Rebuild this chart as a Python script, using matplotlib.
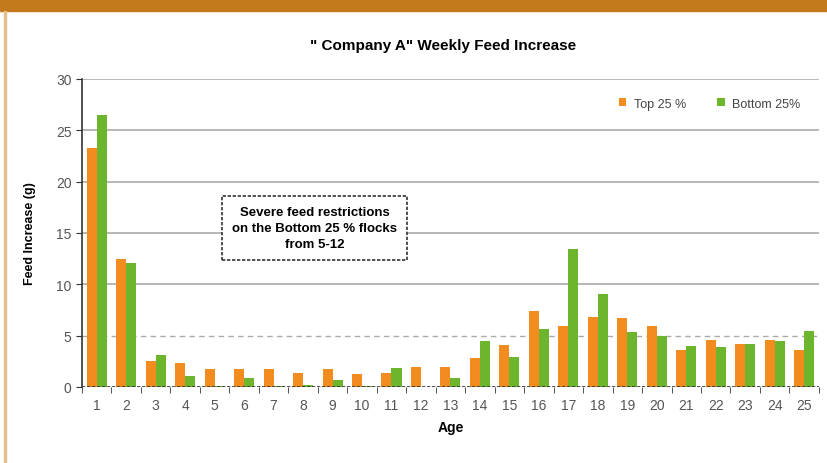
import numpy as np
import matplotlib
matplotlib.use('Agg')
import matplotlib.pyplot as plt
from matplotlib.patches import Rectangle

ages = list(range(1, 26))
top25 = [23.3, 12.5, 2.5, 2.3, 1.75, 1.75, 1.75, 1.4, 1.7, 1.25, 1.4, 1.9, 1.9,
         2.8, 4.1, 7.4, 5.9, 6.8, 6.7, 5.9, 3.6, 4.6, 4.2, 4.6, 3.6]
bottom25 = [26.5, 12.1, 3.1, 1.1, 0.1, 0.9, 0.1, 0.2, 0.65, 0.1, 1.8, -0.3, 0.9,
            4.5, 2.9, 5.6, 13.4, 9.0, 5.3, 5.0, 4.0, 3.9, 4.2, 4.5, 5.4]
series_names = ['Top 25 %', 'Bottom 25%']
title = '" Company A" Weekly Feed Increase'
note = 'Severe feed restrictions\non the Bottom 25 % flocks\nfrom 5-12'

plt.rcParams['font.family'] = ['Liberation Sans Narrow', 'Liberation Sans', 'DejaVu Sans']

orange = '#F28C1E'
green = '#6CB52C'

fig = plt.figure(figsize=(8.28, 4.64), dpi=100)
# top band and left border of the panel
fig.patches.append(Rectangle((0, 1 - 12 / 464.), 1, 12 / 464., transform=fig.transFigure,
                             color='#C27A1C', zorder=0))
fig.patches.append(Rectangle((4 / 828., 0), 2 / 828., 1 - 12 / 464., transform=fig.transFigure,
                             color='#E2C08A', zorder=0))

ax = fig.add_axes([0.099, 0.164, 0.890, 0.664])
x = np.arange(len(ages))
w = 0.34
b1 = ax.bar(x - w / 2, top25, w, color=orange, zorder=3, label=series_names[0])
b2 = ax.bar(x + w / 2, bottom25, w, color=green, zorder=3, label=series_names[1])

ax.set_xlim(-0.5, len(ages) - 0.5)
ax.set_ylim(0, 30)
ax.set_yticks(range(0, 31, 5))
ax.set_xticks(x)
ax.set_xticklabels([str(a) for a in ages], color='#555555', fontsize=10)
ax.set_xticks(np.arange(-0.5, len(ages)), minor=True)
ax.tick_params(axis='x', which='major', length=0, pad=8)
ax.tick_params(axis='x', which='minor', length=4, direction='out', color='#333333')
ax.tick_params(axis='y', length=4, color='#333333', labelcolor='#555555', labelsize=10)

for v in range(10, 31, 5):
    ax.axhline(v, color='#AAAAAA', lw=1.2, zorder=1)
ax.axhline(5, color='#AAAAAA', lw=1.0, ls=(0, (4, 3)), zorder=1)
ax.axhline(0, color='#333333', lw=1.2, ls=(0, (2, 1)), zorder=4)

for s in ['top', 'right', 'bottom']:
    ax.spines[s].set_visible(False)
ax.spines['left'].set_color('#333333')
ax.spines['left'].set_linestyle((0, (2, 1)))
ax.spines['left'].set_linewidth(1.2)

ax.set_xlabel('Age', fontweight='bold', fontsize=10, labelpad=6)
ax.set_ylabel('Feed Increase (g)', fontweight='bold', fontsize=9, labelpad=14)
fig.text(0.535, 0.9, title, ha='center', va='center', fontweight='bold', fontsize=11)

ax.legend(handles=[b1, b2], loc='upper right', frameon=False, ncol=2, fontsize=9,
          handlelength=0.6, handleheight=0.6, columnspacing=2.5, handletextpad=0.6,
          bbox_to_anchor=(0.99, 0.975), labelcolor='#444444')

ax.text(7.4, 15.5, note, ha='center', va='center', fontweight='bold', fontsize=9.5,
        linespacing=1.45, zorder=5,
        bbox=dict(boxstyle='square,pad=0.75', fc='white', ec='#333333', ls=(0, (2, 1)), lw=1.2))

fig.savefig('out.png', dpi=100)
